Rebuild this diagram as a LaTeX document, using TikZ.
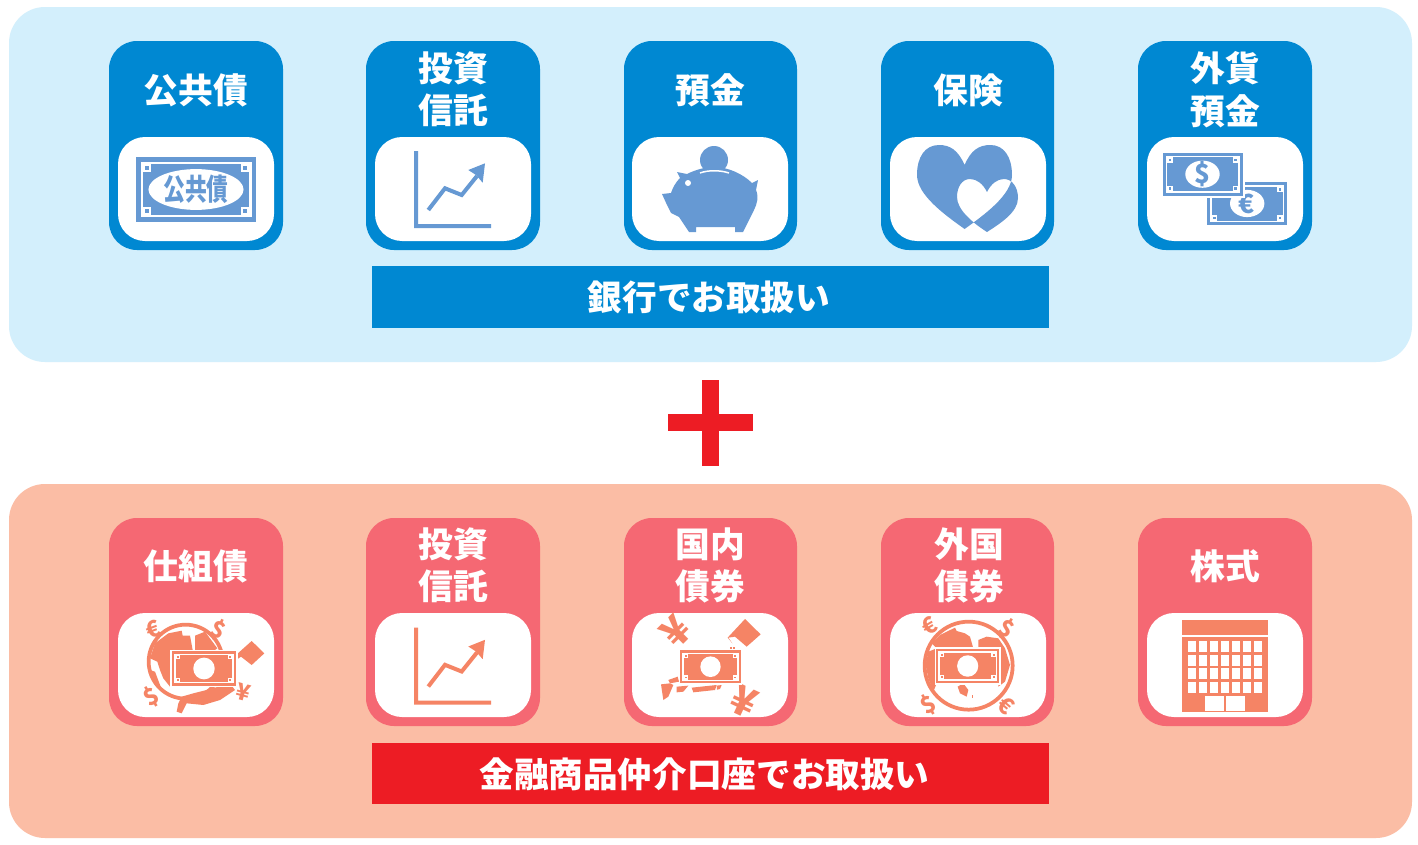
\documentclass[tikz,border=0pt]{standalone}
\usepackage{fontspec}
\newfontfamily\jpfont{Noto Sans CJK JP}
\usepackage{tikz}
\definecolor{skypanel}{HTML}{D3EFFC}
\definecolor{skycard}{HTML}{0088D2}
\definecolor{skyicon}{HTML}{6699D3}
\definecolor{peachpanel}{HTML}{FBBDA5}
\definecolor{rosecard}{HTML}{F56873}
\definecolor{coralicon}{HTML}{F58465}
\definecolor{plusred}{HTML}{ED1C24}
\tikzset{
  panel/.style={rounded corners=0.72cm},
  card/.style={rounded corners=0.56cm},
  window/.style={fill=white,rounded corners=0.54cm},
  cardtitle/.style={text=white,align=center,inner sep=0pt,font={\jpfont\bfseries\fontsize{19.8}{24.1}\selectfont}},
  bannertext/.style={text=white,inner sep=0pt,font={\jpfont\bfseries\fontsize{19.7}{24}\selectfont}},
  moneymark/.style={text=coralicon,inner sep=0pt,font={\jpfont\bfseries\fontsize{13}{13}\selectfont}},
  bigmoney/.style={moneymark,font={\jpfont\bfseries\fontsize{23}{23}\selectfont}},
  notemark/.style={text=skyicon,inner sep=0pt,font={\jpfont\bfseries\fontsize{15}{15}\selectfont}},
  ringline/.style={draw=coralicon,line width=0.075cm}
}
% bill: centre x, centre y, scale, colour, hole x radius
\newcommand{\billicon}[5]{
\begin{scope}[shift={(#1,#2)},scale=#3]
\fill[white] (-42,-23.5) rectangle (42,23.5);
\fill[#4] (-40,-21.5) rectangle (40,21.5);
\fill[white] (-37,-18.5) rectangle (37,18.5);
\fill[#4] (-35.5,-17) rectangle (35.5,17);
\foreach \sx in {-1,1} \foreach \sy in {-1,1} {
  \fill[white] ({\sx*35.5},{\sy*17}) rectangle ({\sx*30},{\sy*11.5});
  \fill[#4] ({\sx*34},{\sy*15.5}) rectangle ({\sx*31.5},{\sy*13});
}
\fill[white] (0,0) ellipse [x radius=#5,y radius=13.6];
\end{scope}
}
% chart: vertical shift, colour
\newcommand{\charticon}[2]{
\begin{scope}[shift={(0,#1)}]
\fill[#2] (414,151) -- (418,151) -- (418,224) -- (491,224) -- (491,228) -- (414,228) -- cycle;
\draw[#2,line width=0.08cm] (428.3,210) -- (445,188.3) -- (461.7,195) -- (477,176);
\fill[#2] (485,163.3) -- (468.3,170) -- (476,175) -- (482.7,182.7) -- cycle;
\end{scope}
}
\begin{document}
\begin{tikzpicture}[x=0.02cm,y=-0.02cm]
\useasboundingbox (0,0) rectangle (1418,845);
\fill[white] (0,0) rectangle (1418,845);

% upper group
\fill[skypanel,panel] (9,7) rectangle (1412,362);
\fill[skycard,card] (109,41) rectangle (283,250);
\fill[skycard,card] (366,41) rectangle (540,250);
\fill[skycard,card] (624,41) rectangle (797,250);
\fill[skycard,card] (881,41) rectangle (1054,250);
\fill[skycard,card] (1138,41) rectangle (1312,250);
\fill[window] (118,137) rectangle (274,241);
\fill[window] (375,137) rectangle (531,241);
\fill[window] (632,137) rectangle (788,241);
\fill[window] (890,137) rectangle (1046,241);
\fill[window] (1147,137) rectangle (1303,241);
\node[cardtitle] (bondTitle) at (196,90) {公共債};
\node[cardtitle] (fundTitle) at (453,89.5) {投資\\信託};
\node[cardtitle] (depositTitle) at (710,90) {預金};
\node[cardtitle] (lifeTitle) at (968,90) {保険};
\node[cardtitle] (forexTitle) at (1225.5,89.5) {外貨\\預金};

% bond
\billicon{196}{189.5}{1.5}{skyicon}{31.7}
\node[text=skyicon,inner sep=0pt,xscale=0.73,transform shape,font={\jpfont\bfseries\fontsize{17}{17}\selectfont}] (bondMark) at (196,189.5) {公共債};

\charticon{0}{skyicon}

% pig
\fill[skyicon] (714,160) circle (14);
\fill[white] (699,170) rectangle (730,176);
\fill[skyicon] (677,172) -- (687,174) .. controls (695,170) and (705,167) .. (714,167)
  .. controls (728,167) and (743,174) .. (752,183) -- (758,180) -- (756,190)
  .. controls (759,197) and (757,204) .. (754,210) -- (743,232) -- (735,232) -- (735,227)
  -- (696,227) -- (696,232) -- (689,232) -- (679,217) -- (671,213) -- (667,205) -- (662,194)
  -- (671,193) .. controls (673,187) and (676,182) .. (680,178) -- cycle;
\fill[white] (688,183) ellipse [x radius=3,y radius=3];
\draw[white,line width=0.03cm] (700,173) .. controls (708,170) and (720,170) .. (729,173);
\fill[skyicon] (710,172.5) rectangle (719,177);

% hearts
\fill[skyicon,even odd rule] (964.6,165) .. controls (958,150) and (950,145) .. (939,145)
  .. controls (925,145) and (917,157) .. (917,175) .. controls (917,195) and (945,215) .. (964.6,229)
  .. controls (984,215) and (1012,195) .. (1012,175) .. controls (1012,157) and (1004,145) .. (990.5,145)
  .. controls (979,145) and (971,150) .. (964.6,165) -- cycle
  (987,192) .. controls (983,184) and (977,179) .. (970,179)
  .. controls (962,179) and (957,187) .. (957,197) .. controls (957,210) and (973,223) .. (987,232)
  .. controls (1001,223) and (1018,212) .. (1018,198) .. controls (1018,187) and (1012,179) .. (1004,179)
  .. controls (997,179) and (991,184) .. (987,192) -- cycle;

% foreign notes
\billicon{1247.2}{203.5}{1}{skyicon}{17.2}
\node[notemark] (euroNote) at (1247,204) {€};
\billicon{1202.5}{174.2}{1}{skyicon}{17.2}
\node[notemark] (dollarNote) at (1202.5,174.2) {\$};

% upper banner
\fill[skycard] (372,266) rectangle (1049,328);
\node[bannertext] (bankBanner) at (709,297) {銀行でお取扱い};

% plus
\fill[plusred] (702,380) rectangle (719,466);
\fill[plusred] (668,414) rectangle (753,431);

% lower group
\fill[peachpanel,panel] (9,484) rectangle (1412,838);
\fill[rosecard,card] (109,518) rectangle (283,726);
\fill[rosecard,card] (366,518) rectangle (540,726);
\fill[rosecard,card] (624,518) rectangle (797,726);
\fill[rosecard,card] (881,518) rectangle (1054,726);
\fill[rosecard,card] (1138,518) rectangle (1312,726);
\fill[window] (118,613) rectangle (274,717);
\fill[window] (375,613) rectangle (531,717);
\fill[window] (632,613) rectangle (788,717);
\fill[window] (890,613) rectangle (1046,717);
\fill[window] (1147,613) rectangle (1303,717);
\node[cardtitle] (structTitle) at (196,566.5) {仕組債};
\node[cardtitle] (fundTitleB) at (453,565.5) {投資\\信託};
\node[cardtitle] (domesticTitle) at (710,565.5) {国内\\債券};
\node[cardtitle] (foreignTitle) at (969,565.5) {外国\\債券};
\node[cardtitle] (stockTitle) at (1225,566.5) {株式};

% structured bond
\begin{scope}[shift={(140,615)},scale=1/3]
\draw[ringline] (137,140) circle (111);
\fill[coralicon] (30,130) -- (45,85) -- (85,55) -- (125,47) -- (128,62) -- (150,62) -- (158,105) -- (110,110) -- (100,150)
  -- (90,215) -- (70,190) -- (60,165) -- (52,140) -- cycle;
\fill[coralicon] (165,62) -- (195,50) -- (232,100) -- (215,112) -- (165,105) -- cycle;
\fill[coralicon] (30,165) -- (50,215) -- (62,215) -- (45,170) -- cycle;
\fill[coralicon] (125,245) -- (160,235) -- (200,225) -- (270,205) -- (285,225) -- (240,255) -- (190,270)
  -- (140,265) -- (125,295) -- (110,290) -- (115,265) -- cycle;
\fill[coralicon] (335,78) -- (373,115) -- (335,150) -- (303,125) -- (288,135) -- (288,120) -- cycle;
\node[moneymark,rotate=20] (euroA) at (40,42) {€};
\node[moneymark,rotate=-25] (dollarA) at (235,45) {\$};
\node[moneymark,rotate=30] (dollarB) at (35,245) {\$};
\node[moneymark,rotate=-15] (yenA) at (310,232) {¥};
\end{scope}
\billicon{204}{668.5}{0.8}{coralicon}{13.4}

\charticon{476.5}{coralicon}

% domestic bond
\begin{scope}[shift={(655,615)},scale=1/3]
\node[bigmoney,rotate=45] (yenB) at (63,50) {¥};
\node[bigmoney,rotate=-25] (yenC) at (268,258) {¥};
\fill[coralicon] (270,12) -- (317,58) -- (275,95) -- (240,65) -- (220,68) -- (232,85) -- (218,68) -- cycle;
\fill[coralicon] (225,97) rectangle (231,103);
\fill[coralicon] (235,97) rectangle (241,103);
\fill[coralicon] (18,208) -- (45,205) -- (55,210) -- (40,245) -- (25,255) -- cycle;
\fill[coralicon] (40,195) -- (68,185) -- (72,200) -- (45,205) -- cycle;
\fill[coralicon] (65,215) -- (100,212) -- (85,230) -- (65,232) -- cycle;
\fill[coralicon] (110,218) -- (185,210) -- (180,225) -- (115,232) -- cycle;
\fill[coralicon] (185,212) -- (200,210) -- (195,222) -- (186,224) -- cycle;
\end{scope}
\billicon{710.5}{666.7}{0.76}{coralicon}{13.4}

% foreign bond
\begin{scope}[shift={(915,615)},scale=1/3]
\draw[ringline] (161,152) circle (132);
\fill[coralicon] (50,85) -- (75,60) -- (120,38) -- (125,48) -- (150,55) -- (165,65) -- (175,100) -- (65,100) -- cycle;
\fill[coralicon] (190,75) -- (215,65) -- (250,70) -- (270,100) -- (285,150) -- (270,200) -- (250,215) -- (250,100) -- (190,100) -- cycle;
\fill[coralicon] (32,150) -- (40,110) -- (65,100) -- (65,205) -- (55,230) -- (40,190) -- cycle;
\fill[coralicon] (128,215) -- (145,205) -- (160,225) -- (155,245) -- (135,235) -- cycle;
\fill[coralicon] (170,240) rectangle (175,250);
\node[moneymark,rotate=30] (euroB) at (42,33) {€};
\node[moneymark,rotate=-30] (dollarC) at (275,40) {\$};
\node[moneymark,rotate=30] (dollarD) at (40,268) {\$};
\node[moneymark,rotate=-40] (euroC) at (272,272) {€};
\end{scope}
\billicon{967.7}{666}{0.79}{coralicon}{13.4}

% building
\begin{scope}[shift={(880,600)},scale=1/3]
\fill[coralicon] (906,60) rectangle (1164,104);
\fill[coralicon] (906,111) rectangle (1164,335);
\foreach \wx in {923,957,990,1022,1056,1089,1122} \foreach \wy in {123,164,204,246} {
  \fill[white] (\wx,\wy) rectangle ++(25,34);
}
\fill[white] (975,288) rectangle (1032,333);
\fill[white] (1038,288) rectangle (1095,333);
\end{scope}

% lower banner
\fill[plusred] (372,743) rectangle (1049,804);
\node[bannertext] (brokerBanner) at (704.5,774) {金融商品仲介口座でお取扱い};
\end{tikzpicture}
\end{document}
